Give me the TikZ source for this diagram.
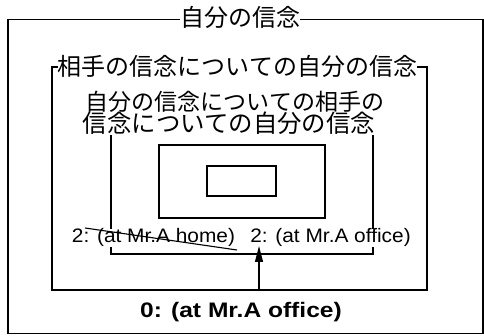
\documentclass[tikz,border=0pt]{standalone}
\usepackage{fontspec}
\setmainfont{Liberation Sans}
\newfontfamily\jp{Noto Sans CJK JP}
\usetikzlibrary{arrows.meta}
\begin{document}
\begin{tikzpicture}[x=1pt,y=-1pt,
  box/.style={line width=1.1pt},
  jlabel/.style={fill=white,inner sep=0pt,anchor=base},
  elabel/.style={fill=white,inner sep=0pt,anchor=base},
  arr/.style={line width=1.2pt,-{Triangle[length=16pt,width=8pt]}},
]
\useasboundingbox (0,0) rectangle (484,336);
\fill[white] (0,0) rectangle (484,336);
% outer box
\draw[box,line width=1.4pt] (8,19.5) rectangle (483,333.5);
\node[jlabel] (t0) at (240,26.5) {\fontsize{24}{24}\selectfont\jp 自分の信念};
% box 2
\draw[box] (52,67) rectangle (427,290);
\node[jlabel] (t1) at (237.5,75.5) {\fontsize{24}{24}\selectfont\jp 相手の信念についての自分の信念};
% box 3
\draw[box] (111,128) rectangle (373,254);
\node[jlabel] (t2a) at (235,111) {\fontsize{23}{23}\selectfont\jp 自分の信念についての相手の};
\node[jlabel] (t2b) at (229,133) {\fontsize{24.4}{24.4}\selectfont\jp 信念についての自分の信念};
% inner boxes
\draw[box] (159,145) rectangle (325,218);
\draw[box] (207,166) rectangle (276,196);
% labels
\node[elabel] (home) at (153.5,243) {\fontsize{19.5}{19.5}\selectfont\scalebox{1.07}[1]{2: (at Mr.A home)}};
\node[elabel] (office) at (330.5,243) {\fontsize{19.5}{19.5}\selectfont\scalebox{1.07}[1]{2: (at Mr.A office)}};
\node[anchor=base,inner sep=0pt] (zero) at (241,317) {\fontsize{21}{21}\selectfont\bfseries\scalebox{1.17}[1]{0: (at Mr.A office)}};
% strike-through
\coordinate (s0) at (85,228);
\coordinate (s1) at (237,250);
\draw[line width=1.1pt] (s0) -- (s1);
% arrow
\coordinate (a0) at (259,290);
\coordinate (a1) at (259,246);
\draw[arr] (a0) -- (a1);
\end{tikzpicture}
\end{document}
